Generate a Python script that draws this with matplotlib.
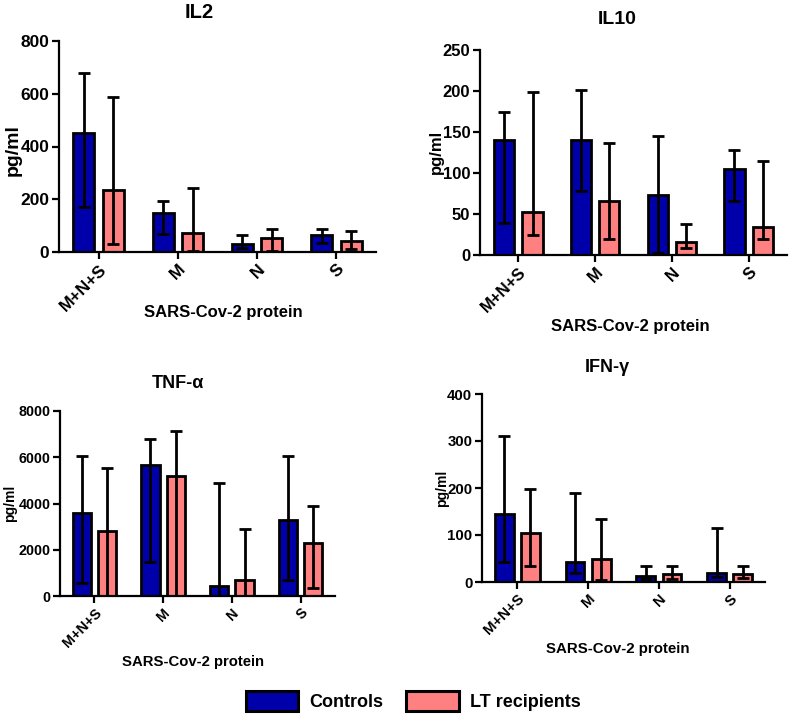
import matplotlib
matplotlib.use("Agg")
import matplotlib.pyplot as plt
from matplotlib.patches import Patch
import numpy as np

plt.rcParams['font.family'] = ['Liberation Sans', 'DejaVu Sans']
plt.rcParams['font.weight'] = 'bold'

categories = ["M+N+S", "M", "N", "S"]
groups = ["Controls", "LT recipients"]
colors = ["#0000AA", "#FF8080"]

# IL2
il2_ctrl = [451, 147, 30, 66]
il2_ctrl_lo = [172, 67, 14, 33]
il2_ctrl_hi = [680, 195, 63, 88]
il2_lt = [235, 71, 52, 40]
il2_lt_lo = [29, 5, 5, 10]
il2_lt_hi = [589, 244, 87, 81]

# IL10
il10_ctrl = [140, 140, 73, 105]
il10_ctrl_lo = [39, 78, 2, 66]
il10_ctrl_hi = [174, 201, 145, 128]
il10_lt = [52, 66, 16, 34]
il10_lt_lo = [24, 20, 8, 19]
il10_lt_hi = [199, 136, 38, 115]

# TNF-alpha
tnf_ctrl = [3610, 5660, 433, 3292]
tnf_ctrl_lo = [578, 1473, 0, 708]
tnf_ctrl_hi = [6036, 6773, 4895, 6036]
tnf_lt = [2816, 5184, 679, 2296]
tnf_lt_lo = [0, 0, 0, 347]
tnf_lt_hi = [5545, 7134, 2888, 3913]

# IFN-gamma
ifn_ctrl = [145, 43, 13, 20]
ifn_ctrl_lo = [42, 19, 6, 11]
ifn_ctrl_hi = [311, 189, 34, 114]
ifn_lt = [104, 49, 17, 17]
ifn_lt_lo = [34, 4, 6, 8]
ifn_lt_hi = [198, 134, 33, 35]

W, H = 789, 719
fig = plt.figure(figsize=(W / 100, H / 100), dpi=100)


def add_ax(x0, x1, y0, y1):
    return fig.add_axes([x0 / W, 1 - y1 / H, (x1 - x0) / W, (y1 - y0) / H])


def panel(ax, ctrl, clo, chi, lt, llo, lhi, ymax, ystep, fs):
    x = np.arange(len(categories))
    off, bw = 0.185, 0.265
    for vals, lo, hi, col, sgn in [(ctrl, clo, chi, colors[0], -1), (lt, llo, lhi, colors[1], 1)]:
        vals = np.array(vals, float)
        err = np.vstack([vals - np.array(lo, float), np.array(hi, float) - vals])
        ax.bar(x + sgn * off, vals, bw, color=col, edgecolor='black', linewidth=2.0, zorder=2)
        ax.errorbar(x + sgn * off, vals, yerr=err, fmt='none', ecolor='black',
                    elinewidth=2.0, capsize=4.5, capthick=2.0, zorder=3)
    ax.set_xlim(-0.5, 3.5)
    ax.set_ylim(0, ymax)
    ax.set_yticks(np.arange(0, ymax + 1, ystep))
    ax.set_xticks(x)
    ax.set_xticklabels(categories, rotation=45, ha='right', rotation_mode='anchor',
                       fontsize=fs, fontweight='bold')
    for lab in ax.get_yticklabels():
        lab.set_fontsize(fs)
        lab.set_fontweight('bold')
    for s in ['top', 'right']:
        ax.spines[s].set_visible(False)
    for s in ['left', 'bottom']:
        ax.spines[s].set_linewidth(1.6)
    ax.tick_params(axis='both', width=1.6, length=5, pad=2)
    ax.margins(0)


ax1 = add_ax(59, 376, 41, 252)
panel(ax1, il2_ctrl, il2_ctrl_lo, il2_ctrl_hi, il2_lt, il2_lt_lo, il2_lt_hi, 800, 200, 12.5)
ax2 = add_ax(480, 787, 50, 255)
panel(ax2, il10_ctrl, il10_ctrl_lo, il10_ctrl_hi, il10_lt, il10_lt_lo, il10_lt_hi, 250, 50, 12)
ax3 = add_ax(60, 335, 411, 596)
panel(ax3, tnf_ctrl, tnf_ctrl_lo, tnf_ctrl_hi, tnf_lt, tnf_lt_lo, tnf_lt_hi, 8000, 2000, 10.3)
ax4 = add_ax(482, 765, 394, 582)
panel(ax4, ifn_ctrl, ifn_ctrl_lo, ifn_ctrl_hi, ifn_lt, ifn_lt_lo, ifn_lt_hi, 400, 100, 10.8)


def ftext(x, y, s, fs, rot=0):
    fig.text(x / W, 1 - y / H, s, fontsize=fs, fontweight='bold', ha='center', va='center', rotation=rot)


# titles
ftext(199, 12, "IL2", 14.5)
ftext(617, 19, "IL10", 14)
ftext(178, 384, "TNF-\u03b1", 13)
ftext(607, 367, "IFN-\u03b3", 13)
# y labels
ftext(13, 150, "pg/ml", 14, 90)
ftext(436, 152, "pg/ml", 12, 90)
ftext(10, 503, "pg/ml", 10, 90)
ftext(442, 488, "pg/ml", 10, 90)
# x labels
ftext(223, 313, "SARS-Cov-2 protein", 12)
ftext(630, 326, "SARS-Cov-2 protein", 12)
ftext(193, 662, "SARS-Cov-2 protein", 10.7)
ftext(618, 649, "SARS-Cov-2 protein", 10.8)

handles = [Patch(facecolor=colors[0], edgecolor='black', linewidth=2.2),
           Patch(facecolor=colors[1], edgecolor='black', linewidth=2.2)]
fig.legend(handles, groups, loc='center', bbox_to_anchor=(413 / W, 1 - 701 / H), ncol=2,
           frameon=False, prop={'weight': 'bold', 'size': 13}, handlelength=2.9,
           handleheight=1.35, handletextpad=0.6, columnspacing=1.3)

fig.savefig("out.png", dpi=100)
